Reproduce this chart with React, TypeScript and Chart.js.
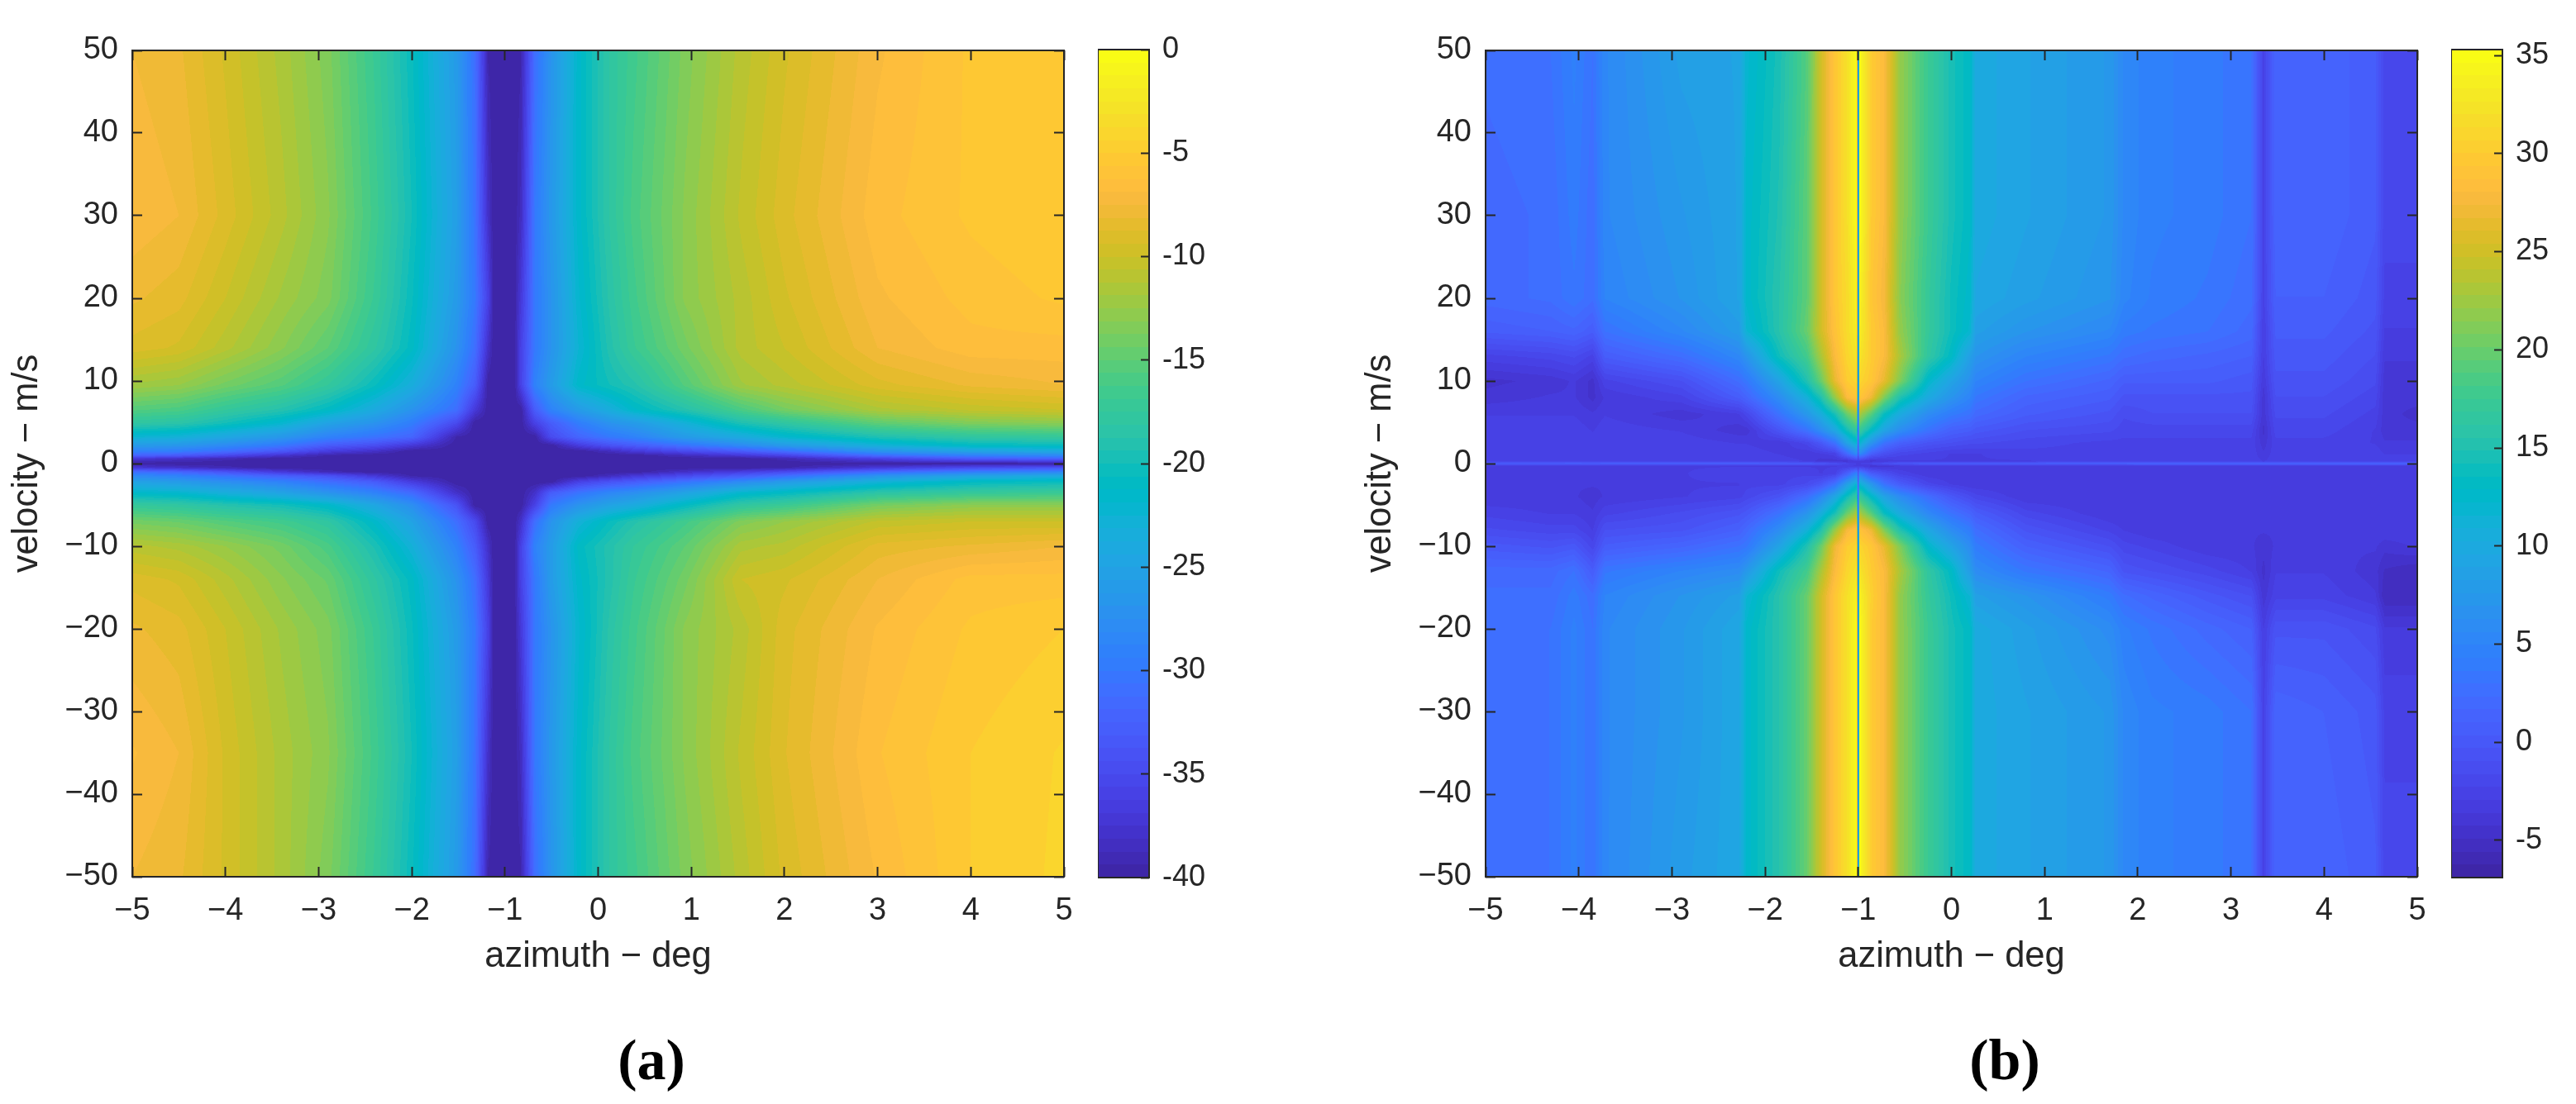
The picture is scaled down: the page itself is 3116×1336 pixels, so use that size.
import React, { useEffect, useRef } from "react";
import { Chart, registerables } from "chart.js";

Chart.register(...registerables);

// parula, 64 levels
const parula = [
  [0.2422, 0.1504, 0.6603], [0.2504, 0.165, 0.7076], [0.2578, 0.1818, 0.7511], [0.2647, 0.1978, 0.7952],
  [0.2706, 0.2147, 0.8364], [0.2751, 0.2342, 0.871], [0.2783, 0.2559, 0.8991], [0.2803, 0.2782, 0.9221],
  [0.2813, 0.3006, 0.9414], [0.281, 0.3228, 0.9579], [0.2795, 0.3447, 0.9717], [0.276, 0.3667, 0.9829],
  [0.2699, 0.3892, 0.9906], [0.2602, 0.4123, 0.9952], [0.244, 0.4358, 0.9988], [0.2206, 0.4603, 0.9973],
  [0.1963, 0.4847, 0.9892], [0.1834, 0.5074, 0.9798], [0.1786, 0.5289, 0.9682], [0.1764, 0.5499, 0.952],
  [0.1687, 0.5703, 0.9359], [0.154, 0.5902, 0.9218], [0.146, 0.6091, 0.9079], [0.138, 0.6276, 0.8973],
  [0.1248, 0.6459, 0.8883], [0.1113, 0.6635, 0.8763], [0.0952, 0.6798, 0.8598], [0.0689, 0.6948, 0.8394],
  [0.0297, 0.7082, 0.8163], [0.0036, 0.7203, 0.7917], [0.0067, 0.7312, 0.766], [0.0433, 0.7411, 0.7394],
  [0.0964, 0.75, 0.712], [0.1408, 0.7584, 0.6842], [0.1717, 0.767, 0.6554], [0.1938, 0.7758, 0.6251],
  [0.2161, 0.7843, 0.5923], [0.247, 0.7918, 0.5567], [0.2906, 0.7973, 0.5188], [0.3406, 0.8008, 0.4789],
  [0.3909, 0.8029, 0.4354], [0.4456, 0.8024, 0.3909], [0.5044, 0.7993, 0.348], [0.5616, 0.7942, 0.3045],
  [0.6174, 0.7876, 0.2612], [0.672, 0.7793, 0.2227], [0.7242, 0.7698, 0.191], [0.7738, 0.7598, 0.1646],
  [0.8203, 0.7498, 0.1535], [0.8634, 0.7406, 0.1596], [0.9035, 0.733, 0.1774], [0.9393, 0.7288, 0.21],
  [0.9728, 0.7298, 0.2394], [0.9956, 0.7434, 0.2371], [0.997, 0.7659, 0.2199], [0.9952, 0.7861, 0.1991],
  [0.9892, 0.8137, 0.1885], [0.9786, 0.8386, 0.1766], [0.9676, 0.8639, 0.1643], [0.961, 0.889, 0.1537],
  [0.9597, 0.9135, 0.1423], [0.9628, 0.9373, 0.1265], [0.9691, 0.9606, 0.1064], [0.9769, 0.9839, 0.0805],
].map((c) => c.map((k) => Math.round(k * 255)));

const azimuthTicks = [-5, -4, -3, -2, -1, 0, 1, 2, 3, 4, 5];
const velocityTicks = [-50, -40, -30, -20, -10, 0, 10, 20, 30, 40, 50];
const barTicksA = [-40, -35, -30, -25, -20, -15, -10, -5, 0];
const barTicksB = [-5, 0, 5, 10, 15, 20, 25, 30, 35];

// panel (a): values in dB at each azimuth / velocity node
const azimuthA = [-5, -4.5, -4, -3.4, -2.9, -2.4, -2, -1.52, -1.32, -1.18, -1.12, -1.0, -0.9, -0.83, -0.68, -0.51, -0.21, 0.13, 0.38, 0.93, 1.53, 2, 3, 4, 5];
const velocityA = [50, 30, 20, 14, 9.5, 6.5, 4.9, 3.2, 2.2, 1.5, 1, 0.6, 0, -0.5, -1, -1.5, -2.2, -3.5, -5, -7, -10, -14, -20, -35, -50];
const levelsA = [
  [-7.5, -8, -9.5, -11.5, -13.5, -17, -20.5, -26, -31, -39.5, -40, -40, -40, -39.5, -31, -27, -21.5, -18, -16.5, -13.5, -11, -9.5, -7, -5.5, -5],
  [-7, -7.5, -9, -11, -13, -16.5, -20, -25.5, -30.5, -38, -40, -40, -40, -38.5, -30, -26.5, -21.5, -18, -16, -13, -10.5, -9, -6.5, -5.5, -5],
  [-8, -8.5, -10, -12, -13.5, -17, -20.5, -26, -30, -36, -40, -40, -40, -37, -30, -27, -22, -18.5, -16.5, -13, -11, -9.5, -7, -6, -5.5],
  [-9, -9.5, -11, -13, -15, -18, -21, -27, -31, -38, -40, -40, -40, -36, -30, -27, -22.5, -19, -17, -14, -11, -10, -7.5, -6.5, -6.5],
  [-12, -12.5, -14, -15.5, -17.5, -20.5, -23.5, -29, -33, -40, -40, -40, -40, -36, -29, -26, -21.5, -20, -19, -15.5, -12, -11, -9, -8, -7.5],
  [-15.5, -16, -17.5, -19, -21, -24, -27, -31, -37, -40, -40, -40, -40, -40, -33, -29, -26, -23.5, -21.5, -19, -16, -14, -11.5, -10.5, -10],
  [-18, -18.5, -20, -22, -25, -27, -29.5, -35, -40, -40, -40, -40, -40, -40, -36, -33, -29.5, -27, -26, -23, -19.5, -18, -15, -13.5, -13],
  [-22.5, -23, -24.5, -26.5, -29, -30.5, -32, -39.5, -40, -40, -40, -40, -40, -40, -40, -35, -32, -30, -29, -26, -24, -22, -19.5, -18, -17.5],
  [-26, -26.5, -28, -30, -33, -34.5, -37, -40, -40, -40, -40, -40, -40, -40, -40, -40, -36.5, -34, -33, -30.5, -28, -26, -23, -21, -20.5],
  [-29, -29.5, -31, -33.5, -36.5, -38, -40, -40, -40, -40, -40, -40, -40, -40, -40, -40, -40, -38.5, -37, -35, -33, -31, -27, -25, -24],
  [-32, -33, -35, -37.5, -39.5, -40, -40, -40, -40, -40, -40, -40, -40, -40, -40, -40, -40, -40, -40, -38.5, -37, -35.5, -31, -29, -28],
  [-37, -38, -39, -40, -40, -40, -40, -40, -40, -40, -40, -40, -40, -40, -40, -40, -40, -40, -40, -40, -40, -39, -36, -33, -32],
  [-40, -40, -40, -40, -40, -40, -40, -40, -40, -40, -40, -40, -40, -40, -40, -40, -40, -40, -40, -40, -40, -40, -40, -40, -40],
  [-37, -38, -39, -40, -40, -40, -40, -40, -40, -40, -40, -40, -40, -40, -40, -40, -40, -40, -40, -40, -40, -39.5, -37, -35, -34],
  [-31, -32, -34, -37, -39, -40, -40, -40, -40, -40, -40, -40, -40, -40, -40, -40, -40, -40, -40, -38, -36.5, -35, -31.5, -29.5, -28.5],
  [-28, -29, -30.5, -32.5, -34, -37, -39.5, -40, -40, -40, -40, -40, -40, -40, -40, -40, -40, -38.5, -37, -35, -33, -31, -27, -25, -24],
  [-25, -26, -27.5, -29, -31, -33, -36.5, -40, -40, -40, -40, -40, -40, -40, -40, -40, -36, -34, -33, -30.5, -28, -26, -23, -21, -20.5],
  [-21.5, -22, -23.5, -25, -27, -29, -31.5, -38, -40, -40, -40, -40, -40, -40, -38, -33, -30.5, -28.5, -27.5, -25, -22, -21, -18.5, -17.5, -17],
  [-17.5, -18, -19, -20, -21.5, -24.5, -27.5, -34, -40, -40, -40, -40, -40, -40, -36, -30, -27, -25, -24, -21, -18, -17, -14, -13, -13],
  [-14, -14.5, -15.5, -16.5, -18, -21.5, -25, -31, -35, -40, -40, -40, -40, -38, -31, -27, -23, -20.5, -19, -16.5, -13.5, -12.5, -10.5, -10, -10],
  [-11, -11.5, -12.5, -14, -16, -19.5, -23, -29, -33, -38, -40, -40, -40, -36, -29, -26, -21, -19, -17.5, -15, -11.5, -11, -8.5, -8, -7.5],
  [-9, -9.5, -11, -13, -14.5, -18, -21, -27, -31, -37, -40, -40, -40, -36, -30, -26, -21.5, -19, -17, -14, -10, -9.5, -7.5, -6, -6],
  [-8, -8.5, -10, -12, -13.5, -17, -20.5, -26, -30, -36, -40, -40, -40, -37, -30, -27, -22, -18.5, -16.5, -13, -11, -9, -6.8, -5.5, -5],
  [-6.8, -7.5, -9.5, -11.5, -13, -16.5, -20, -25.5, -30.5, -38, -40, -40, -40, -38.5, -30, -26.5, -21.5, -18, -16, -13, -10.5, -8.8, -6.3, -5, -4.3],
  [-7.5, -8, -9.5, -11.5, -13.5, -17, -20.5, -26, -31, -39.5, -40, -40, -40, -39.5, -31, -27, -21.5, -18, -16.5, -13.5, -11, -9.2, -6.8, -5, -4.2],
];

// panel (b)
const azimuthB = [-5, -4.3, -4.05, -3.85, -3.72, -2.9, -2.28, -2.2, -1.85, -1.55, -1.4, -1.25, -1.12, -1.015, -1, -0.985, -0.86, -0.72, -0.55, -0.25, 0, 0.2, 0.26, 0.8, 1.7, 1.85, 2.15, 2.75, 3.22, 3.35, 3.48, 4, 4.55, 4.65, 5];
const velocityB = [50, 30, 20, 16, 13, 10, 8, 6, 4, 2.5, 1.2, 0.3, 0, -0.3, -1.2, -2.5, -4, -6, -8, -10, -13, -16, -20, -30, -50];
const levelsB = [
  [2.5, 3, 4.5, 3, 5.5, 8.5, 9, 12, 14.5, 19, 25, 29.5, 32, 35, -1, 35, 30, 28, 22, 17.5, 14.5, 13, 10, 9, 7.5, 5.5, 4.5, 4, 3, -2.5, 1.5, 1.5, 0.5, -2, -2],
  [2, 2.5, 4, 2.5, 5.5, 7.5, 9, 12.5, 15, 19.5, 25, 29.5, 32, 35, -1, 35, 30, 28, 22, 17.5, 14.5, 13, 10, 9, 7.5, 5.5, 4.5, 4, 3, -2.5, 1.5, 1.5, 0.5, -2, -2],
  [2, 2.5, 3.5, 2.5, 5, 7, 9, 12.5, 15.5, 19.5, 25, 29.5, 31.5, 34, -1, 34, 29.5, 27.5, 21.5, 17, 14, 12.5, 9.5, 8.5, 7, 5.2, 4.2, 3.5, 2.5, -2.5, 1, 1, 0, -2.5, -2.5],
  [0.5, 1, 1.5, 0.5, 3, 5.5, 8, 11.5, 15.5, 20, 25, 29, 31.5, 33.5, -1, 33.5, 30, 28, 22, 17, 14, 12, 8.5, 7, 5.5, 4, 3.5, 3, 2, -3, 0.5, 0.5, -0.5, -3, -3],
  [-2.5, -2, -1.5, -2.5, 0.5, 2.5, 5.5, 7, 14, 18, 23, 28, 31, 32.5, -1, 32.5, 30, 28, 23, 16.5, 13, 8.5, 7, 5, 3.5, 2.5, 2, 1.5, 1, -3, 0, 0, -1, -3.5, -3.5],
  [-4.5, -4, -3.5, -4.5, -2.5, -1, 2.5, 3.5, 9, 15, 20, 26.5, 30, 31, -1, 31, 29.5, 26.5, 21, 12.5, 9, 6.5, 5, 3, 1.5, 0.5, 0.5, 0.5, 0, -3.5, -0.5, -0.5, -1.5, -4, -4],
  [-4, -3.5, -3.5, -4.5, -3.5, -2.5, 0.5, 1.5, 6, 11, 15, 22, 28, 29.5, -1, 29.5, 27, 21, 15, 10, 7, 5, 3.5, 1.5, 0.5, -0.5, -0.5, -0.5, -0.5, -4, -1, -1, -2, -4, -4],
  [-3, -3, -3, -3.5, -3, -4, -3, -2, 3, 7.5, 10.5, 14.5, 20, 23, -1, 23, 19, 13.5, 10, 6, 4, 3, 2, 0.5, -0.5, -1.5, -1, -1, -1, -4, -1.5, -1.5, -2.5, -4, -4.5],
  [-2.5, -2.5, -2.5, -3, -2.5, -3, -4, -4, -0.5, 3, 6, 9.5, 14, 17, -1, 17, 13, 9, 6, 3, 1, 0.5, 0, -1, -1.5, -2, -2, -2, -2, -4.5, -2, -2, -3, -4, -4],
  [-2.5, -2.5, -2.5, -2.5, -2.5, -2.5, -3, -3, -3.5, -2, 0, 3, 9, 12, -1, 12, 7, 3, 1, -0.5, -1, -1.5, -1.5, -2, -2.5, -2.5, -2.5, -2.5, -2.5, -4, -2.5, -2.5, -3, -3.5, -3.5],
  [-2.5, -2.5, -2.5, -2.5, -2.5, -2.5, -2.5, -2.5, -3, -3.5, -3, -2.5, 2, 6, -1, 6, 1, -1, -2, -2.5, -3, -3, -3, -2.5, -2.5, -2.5, -2.5, -2.5, -2.5, -3.5, -2.5, -2.5, -2.5, -3, -3],
  [-2.5, -2.5, -2.5, -2.5, -2.5, -2.5, -2.5, -2.5, -2.5, -3, -4, -4, -4, -3, -3, -3, -4, -3.5, -3, -3, -3, -3, -3, -3, -2.5, -2.5, -2.5, -2.5, -2.5, -3, -2.5, -2.5, -2.5, -2.5, -2.5],
  [0.5, 0.8, 1, 0.8, 1, 1, 1, 1, 0.8, 0.5, 0, -1, -2, -3, -3, -3, -2, -1, 0, 0.5, 0.8, 1, 1, 1, 1, 1, 1.2, 1.2, 1.2, 1.2, 1.2, 1.2, 1.2, 1.2, 1],
  [-3, -3, -3, -3, -3, -3, -3, -3, -3, -3, -3, -3, -3, -3, -3, -3, -4, -4, -3.5, -3.5, -3, -3, -3, -3, -3, -3, -3, -3, -3, -3, -3, -3, -3, -3, -3],
  [-3, -3, -3, -3, -3, -3, -2.5, -2.5, -2.5, -2.5, -3, -2.5, 1, 5, -1, 5, 0.5, -1, -2.5, -3.5, -3.5, -3.5, -3.5, -3, -3, -3, -3, -3, -3, -3, -3, -3, -3, -3, -3],
  [-3.5, -3.5, -3.5, -3.5, -3.5, -3, -3, -2.5, -2.5, -1.5, 0, 3, 8.5, 12, -1, 12, 7.5, 3, 0.5, -2, -3, -3.5, -3.5, -3.5, -3, -3, -3, -3, -3, -3.5, -3, -3, -3, -3, -3],
  [-3.5, -3.5, -3.5, -4, -3.5, -3, -2.5, -2, -0.5, 2.5, 5.5, 9.5, 14, 17, -1, 17, 13, 9, 6, 2.5, 0, -1.5, -2, -3.5, -3.5, -3.5, -3.5, -3, -3, -3.5, -3, -3, -3, -3, -3],
  [-2.5, -3, -3, -3.5, -2.5, -1.5, -0.5, 0, 3, 7, 10.5, 14.5, 20, 23, -1, 23, 19, 13.5, 10, 5.5, 3, 1.5, 0.5, -2, -3.5, -3.5, -3.5, -3.5, -3, -3.5, -3, -3, -3, -3, -3],
  [-1.5, -2, -2, -3, -1, -0.5, 1, 2, 6, 11, 15, 22, 27.5, 29, -1, 29, 27, 21, 15, 9.5, 6, 4, 2.5, -0.5, -2.5, -3, -3.5, -3.5, -3.5, -3.5, -3.5, -3.5, -3, -3, -3],
  [0, -0.5, 0, -2, 0.5, 1.5, 3, 3.5, 9, 15, 20, 27, 30, 31, -1, 31, 29.5, 26.5, 21, 12.5, 9, 6, 4, 1, -1, -2, -2.5, -3.5, -3.5, -4, -3.5, -3.5, -3.5, -4, -3.5],
  [2, 2, 3, 0.5, 3.5, 5, 6, 7.5, 14, 18, 23, 28, 31, 32.5, -1, 32.5, 30, 28, 23, 16.5, 13, 8, 6, 3.5, 1.5, -0.5, -1, -2, -3, -4.5, -3, -3, -4, -5, -5.5],
  [2.5, 2.5, 4, 2.5, 5, 7, 8.5, 11.5, 15.5, 20, 25, 29.5, 32, 34, -1, 34, 30.5, 28, 22, 17, 14, 11.5, 8.5, 7, 4, 2.5, 1.5, 0, -1, -4, -2.5, -2.5, -3.5, -5.5, -5.5],
  [2.5, 3, 4.5, 3, 5.5, 7.5, 9.5, 12.5, 15.5, 20, 25, 29.5, 32, 35, -1, 35, 30, 28, 22, 17.5, 14.5, 13, 10, 8.5, 6, 4.5, 3.5, 2, 1, -3, -0.5, -0.5, -1.5, -3.5, -3.5],
  [2.5, 3, 4.5, 3, 5.5, 7.5, 9.5, 12.5, 15.5, 20, 25, 29.5, 32, 35, -1, 35, 30, 28, 22, 17.5, 14.5, 13, 10, 9, 7.5, 5.5, 4.5, 4, 3, -2.5, 1.5, 1, 0, -2.5, -2.5],
  [2.5, 3, 4.5, 3, 5.5, 8, 9.5, 12.5, 15.5, 20, 25, 29.5, 32, 35, -1, 35, 30, 28, 22, 17.5, 14.5, 13, 10, 9, 7.5, 5.5, 4.5, 4, 3, -2.5, 1.5, 1.5, 0.5, -2, -2],
];

const INK = "#262626";
const FONT = '"Liberation Sans", Arial, sans-serif';
const CANVAS_H = 1336;
const PLOT_TOP = 61;
const PLOT_BOTTOM = 1061;

const minusLabel = (v: any) => (Number(v) < 0 ? "\u2212" + Math.abs(Number(v)) : String(v));

// the fixed axis boxes, so the plot area lands where it does in the figure
const fixBox = (size: number) => (scale: any) => {
  if (scale.isHorizontal()) scale.height = size;
  else scale.width = size;
  scale.paddingLeft = scale.paddingRight = scale.paddingTop = scale.paddingBottom = 0;
};

const useTicks = (list: number[]) => (scale: any) => {
  scale.ticks = list.map((value) => ({ value }));
};

const inwardTicks = (len: number) => ({
  display: true,
  drawOnChartArea: false,
  drawTicks: true,
  tickLength: -len,
  tickWidth: 2,
  tickColor: INK,
  z: 1,
});

const framePlugin = {
  id: "frame",
  afterDraw(chart: any) {
    const { ctx, chartArea: a } = chart;
    ctx.save();
    ctx.strokeStyle = INK;
    ctx.lineWidth = 2;
    ctx.strokeRect(a.left, a.top, a.right - a.left, a.bottom - a.top);
    ctx.restore();
  },
};

function locate(nodes: number[], val: number): [number, number] {
  for (let i = 0; i < nodes.length - 1; i++) {
    const a = nodes[i];
    const b = nodes[i + 1];
    if ((val >= a && val <= b) || (val <= a && val >= b)) return [i, (val - a) / (b - a)];
  }
  return val * nodes[0] > 0 && Math.abs(val) > Math.abs(nodes[0]) ? [0, 0] : [nodes.length - 2, 1];
}

type PanelProps = {
  chartLeft: number;
  plotWidth: number;
  azimuth: number[];
  velocity: number[];
  levels: number[][];
  low: number;
  high: number;
};

// interpolated colour map, same idea as "shading interp" in the original figure
const Panel: React.FC<PanelProps> = ({ chartLeft, plotWidth, azimuth, velocity, levels, low, high }) => {
  const ref = useRef<HTMLCanvasElement | null>(null);

  useEffect(() => {
    const ctx = ref.current?.getContext("2d");
    if (!ctx) return;

    const nodes: any[] = [];
    velocity.forEach((v, r) => azimuth.forEach((a, c) => nodes.push({ x: a, y: v, level: levels[r][c] })));

    const heatPlugin = {
      id: "heat",
      beforeDatasetsDraw(chart: any) {
        const area = chart.chartArea;
        const w = Math.round(area.right - area.left);
        const h = Math.round(area.bottom - area.top);
        const img = chart.ctx.createImageData(w, h);
        const cols: [number, number][] = [];
        for (let px = 0; px < w; px++) {
          cols.push(locate(azimuth, chart.scales.x.getValueForPixel(area.left + px + 0.5)));
        }
        let k = 0;
        for (let py = 0; py < h; py++) {
          const [r, tr] = locate(velocity, chart.scales.y.getValueForPixel(area.top + py + 0.5));
          for (let px = 0; px < w; px++) {
            const [c, tc] = cols[px];
            const top = levels[r][c] * (1 - tc) + levels[r][c + 1] * tc;
            const bot = levels[r + 1][c] * (1 - tc) + levels[r + 1][c + 1] * tc;
            const val = top * (1 - tr) + bot * tr;
            const idx = Math.max(0, Math.min(63, Math.floor(((val - low) / (high - low)) * 64)));
            const col = parula[idx];
            img.data[k++] = col[0];
            img.data[k++] = col[1];
            img.data[k++] = col[2];
            img.data[k++] = 255;
          }
        }
        chart.ctx.putImageData(img, area.left, area.top);
      },
    };

    const tickFont = { family: FONT, size: 38 };
    const titleFont = { family: FONT, size: 43.5 };
    const chart = new Chart(ctx, {
      type: "scatter",
      data: { datasets: [{ data: nodes, pointRadius: 0, showLine: false }] },
      plugins: [heatPlugin, framePlugin],
      options: {
        responsive: false,
        animation: false,
        devicePixelRatio: 1,
        events: [],
        layout: { padding: { left: 7, top: PLOT_TOP, right: 1330 - 160 - plotWidth, bottom: CANVAS_H - PLOT_BOTTOM - 123 } },
        plugins: { legend: { display: false }, tooltip: { enabled: false } },
        scales: {
          x: {
            type: "linear",
            min: -5,
            max: 5,
            afterBuildTicks: useTicks(azimuthTicks),
            afterFit: fixBox(123),
            grid: inwardTicks(12),
            border: { display: false },
            ticks: { color: INK, font: tickFont, padding: 31, maxRotation: 0, autoSkip: false, callback: minusLabel },
            title: { display: true, text: "azimuth \u2212 deg", color: INK, font: titleFont, padding: 0 },
          },
          y: {
            type: "linear",
            min: -50,
            max: 50,
            afterBuildTicks: useTicks(velocityTicks),
            afterFit: fixBox(153),
            grid: inwardTicks(12),
            border: { display: false },
            ticks: { color: INK, font: tickFont, padding: 29, autoSkip: false, callback: minusLabel },
            title: { display: true, text: "velocity \u2212 m/s", color: INK, font: titleFont, padding: 0 },
          },
          xTop: {
            type: "linear",
            axis: "x",
            position: "top",
            min: -5,
            max: 5,
            afterBuildTicks: useTicks(azimuthTicks),
            afterFit: fixBox(0),
            grid: inwardTicks(12),
            border: { display: false },
            ticks: { display: false },
          },
          yRight: {
            type: "linear",
            axis: "y",
            position: "right",
            min: -50,
            max: 50,
            afterBuildTicks: useTicks(velocityTicks),
            afterFit: fixBox(0),
            grid: inwardTicks(12),
            border: { display: false },
            ticks: { display: false },
          },
        },
      } as any,
    });

    return () => chart.destroy();
  }, [azimuth, velocity, levels, low, high, plotWidth]);

  return <canvas ref={ref} width={1330} height={CANVAS_H} style={{ position: "absolute", left: chartLeft, top: 0 }} />;
};

type BarProps = { left: number; low: number; high: number; tickList: number[] };

const ColorBar: React.FC<BarProps> = ({ left, low, high, tickList }) => {
  const ref = useRef<HTMLCanvasElement | null>(null);

  useEffect(() => {
    const ctx = ref.current?.getContext("2d");
    if (!ctx) return;

    const chart = new Chart(ctx, {
      type: "bar",
      data: {
        labels: [""],
        datasets: [
          {
            data: [[low, high]],
            barPercentage: 1,
            categoryPercentage: 1,
            borderWidth: 0,
            backgroundColor: (c: any) => {
              const area = c.chart.chartArea;
              if (!area) return "#3e26a8";
              const g = c.chart.ctx.createLinearGradient(0, area.bottom, 0, area.top);
              parula.forEach((col, i) => {
                const css = `rgb(${col[0]},${col[1]},${col[2]})`;
                g.addColorStop(i / 64, css);
                g.addColorStop((i + 1) / 64, css);
              });
              return g;
            },
          },
        ],
      },
      plugins: [framePlugin],
      options: {
        responsive: false,
        animation: false,
        devicePixelRatio: 1,
        events: [],
        layout: { padding: { left: 0, top: 60, right: 0, bottom: CANVAS_H - 1062 } },
        plugins: { legend: { display: false }, tooltip: { enabled: false } },
        scales: {
          x: { display: false },
          y: {
            type: "linear",
            position: "right",
            min: low,
            max: high,
            afterBuildTicks: useTicks(tickList),
            afterFit: fixBox(88),
            grid: inwardTicks(10),
            border: { display: false },
            ticks: { color: INK, font: { family: FONT, size: 36 }, padding: 26, autoSkip: false, callback: (v: any) => String(v) },
          },
        },
      } as any,
    });

    return () => chart.destroy();
  }, [low, high, tickList]);

  return <canvas ref={ref} width={150} height={CANVAS_H} style={{ position: "absolute", left, top: 0 }} />;
};

const captionStyle: React.CSSProperties = {
  position: "absolute",
  top: 1243,
  width: 200,
  textAlign: "center",
  font: 'bold 70px/80px "Liberation Serif", serif',
  color: "#000",
};

export default function App() {
  return (
    <div style={{ position: "absolute", left: 0, top: 0, width: 3116, height: 1336, background: "#fff", overflow: "hidden" }}>
      <Panel chartLeft={0} plotWidth={1127} azimuth={azimuthA} velocity={velocityA} levels={levelsA} low={-40} high={0} />
      <ColorBar left={1328} low={-40} high={0} tickList={barTicksA} />
      <Panel chartLeft={1637} plotWidth={1127} azimuth={azimuthB} velocity={velocityB} levels={levelsB} low={-6.9} high={35.3} />
      <ColorBar left={2965} low={-6.9} high={35.3} tickList={barTicksB} />
      <div style={{ ...captionStyle, left: 688 }}>(a)</div>
      <div style={{ ...captionStyle, left: 2325 }}>(b)</div>
    </div>
  );
}
